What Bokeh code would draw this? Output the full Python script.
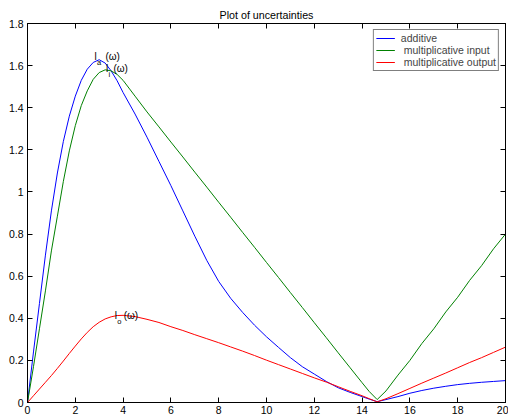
from bokeh.plotting import figure
from bokeh.models import Range1d, LinearAxis, FixedTicker, Legend, LegendItem, ColumnDataSource
from bokeh.core.properties import value
from bokeh.embed import file_html
from bokeh.resources import INLINE

# ---- data ----
omega = [0, 0.25, 0.5, 0.75, 1.0, 1.25, 1.5, 1.75, 2.0, 2.25, 2.5, 2.75, 3.0, 3.25,
         3.5, 3.75, 4.0, 4.5, 5.0, 5.5, 6.0, 6.5, 7.0, 7.5, 8.0, 8.5, 9.0, 9.5, 10.0,
         10.5, 11.0, 11.5, 12.0, 12.5, 13.0, 13.5, 14.0, 14.3, 14.63, 15.0, 15.5, 16.0,
         16.5, 17.0, 17.5, 18.0, 18.5, 19.0, 19.5, 20.0]

additive = [0, 0.24, 0.47, 0.70, 0.91, 1.09, 1.24, 1.36, 1.455, 1.53, 1.583, 1.615, 1.628, 1.612,
            1.575, 1.528, 1.472, 1.37, 1.26, 1.145, 1.03, 0.91, 0.79, 0.675, 0.575, 0.495, 0.428, 0.367, 0.312,
            0.262, 0.213, 0.17, 0.135, 0.1, 0.07, 0.048, 0.028, 0.016, 0.004, 0.014, 0.028, 0.044,
            0.057, 0.068, 0.077, 0.085, 0.091, 0.096, 0.100, 0.104]

mult_input = [0, 0.17, 0.35, 0.53, 0.72, 0.885, 1.05, 1.195, 1.315, 1.41, 1.48, 1.535, 1.567, 1.58,
              1.575, 1.558, 1.53, 1.455, 1.38, 1.309, 1.237, 1.166, 1.094, 1.023, 0.951, 0.88, 0.808, 0.737, 0.665,
              0.594, 0.522, 0.451, 0.379, 0.308, 0.236, 0.165, 0.094, 0.052, 0.014, 0.055, 0.13, 0.20,
              0.28, 0.35, 0.43, 0.50, 0.58, 0.65, 0.73, 0.80]

mult_output = [0, 0.032, 0.064, 0.096, 0.128, 0.162, 0.197, 0.233, 0.268, 0.302, 0.333, 0.36, 0.381, 0.397,
               0.407, 0.413, 0.414, 0.408, 0.395, 0.38, 0.36, 0.342, 0.322, 0.303, 0.284, 0.264, 0.244, 0.223, 0.201,
               0.18, 0.159, 0.138, 0.117, 0.097, 0.075, 0.053, 0.032, 0.018, 0.003, 0.018, 0.042, 0.067,
               0.092, 0.116, 0.14, 0.165, 0.19, 0.213, 0.238, 0.263]

series_labels = ["additive", " multiplicative input", " multiplicative output"]
series_colors = ["#0000ff", "#008000", "#ff0000"]

x_ticks = [0, 2, 4, 6, 8, 10, 12, 14, 16, 18, 20]
y_ticks = [0, 0.2, 0.4, 0.6, 0.8, 1.0, 1.2, 1.4, 1.6, 1.8]
y_tick_labels = ["0", "0.2", "0.4", "0.6", "0.8", "1", "1.2", "1.4", "1.6", "1.8"]

ann_main = ["l", "l", "l"]
ann_sub = ["a", "i", "o"]
ann_tail = ["(\u03c9)", "(\u03c9)", "(\u03c9)"]
ann_x = [2.80, 3.28, 3.65]
ann_y = [1.644, 1.584, 0.411]

FONT = "Liberation Sans"

p = figure(width=508, height=419, output_backend="svg", toolbar_location=None,
           x_range=Range1d(0, 20), y_range=Range1d(0, 1.8),
           title="Plot of uncertainties",
           min_border_left=27, min_border_right=3, min_border_top=23, min_border_bottom=17)
p.background_fill_color = "white"
p.border_fill_color = "white"
p.outline_line_color = "black"
p.outline_line_width = 1
p.grid.visible = False

p.title.align = "center"
p.title.text_font = FONT
p.title.text_font_size = "10.7px"
p.title.text_font_style = "normal"
p.title.text_color = "black"
p.title.standoff = 6

def style_axis(ax, ticks, labels=True):
    ax.ticker = FixedTicker(ticks=ticks)
    ax.major_tick_in = 5
    ax.major_tick_out = 0
    ax.minor_tick_line_color = None
    ax.axis_line_color = "black"
    ax.major_tick_line_color = "black"
    ax.major_label_text_font = FONT
    if labels:
        ax.major_label_text_font_size = "10.5px"
        ax.major_label_text_color = "black"
    else:
        ax.major_label_text_font_size = "1px"
        ax.major_label_text_color = None

style_axis(p.xaxis[0], x_ticks)
p.xaxis[0].major_label_standoff = 3
style_axis(p.yaxis[0], y_ticks)
p.yaxis[0].major_label_standoff = 4
p.yaxis[0].major_label_overrides = {t: s for t, s in zip(y_ticks, y_tick_labels)}

top_ax = LinearAxis()
style_axis(top_ax, x_ticks, labels=False)
top_ax.major_label_standoff = 0
p.add_layout(top_ax, "above")
right_ax = LinearAxis()
style_axis(right_ax, y_ticks, labels=False)
right_ax.major_label_standoff = 0
p.add_layout(right_ax, "right")

renderers = []
for ys, col in zip([additive, mult_input, mult_output], series_colors):
    r = p.line(omega, ys, line_color=col, line_width=1)
    renderers.append(r)

legend = Legend(items=[LegendItem(label=lab, renderers=[r]) for lab, r in zip(series_labels, renderers)],
                location="top_right")
legend.border_line_color = "black"
legend.border_line_width = 1
legend.label_text_font = FONT
legend.label_text_font_size = "10.5px"
legend.glyph_width = 19
legend.glyph_height = 12
legend.label_height = 12
legend.spacing = 0
legend.padding = 2
legend.margin = 6
legend.label_standoff = 6
legend.background_fill_alpha = 1
p.add_layout(legend)

src = ColumnDataSource(dict(x=ann_x, y=ann_y, main=ann_main, sub=ann_sub, tail=ann_tail,
                            tail_dx=[11, 7.5, 9]))
p.text(x="x", y="y", text="main", source=src, text_font=value(FONT), text_font_size="10px",
       text_baseline="middle", text_align="left", text_color="black")
p.text(x="x", y="y", text="sub", source=src, text_font=value(FONT), text_font_size="7.5px",
       text_baseline="middle", text_align="left", text_color="black", x_offset=2.6, y_offset=6)
p.text(x="x", y="y", text="tail", source=src, text_font=value(FONT), text_font_size="10px",
       text_baseline="middle", text_align="left", text_color="black", x_offset="tail_dx", y_offset=0)

open("out.html", "w").write(file_html(p, INLINE))
